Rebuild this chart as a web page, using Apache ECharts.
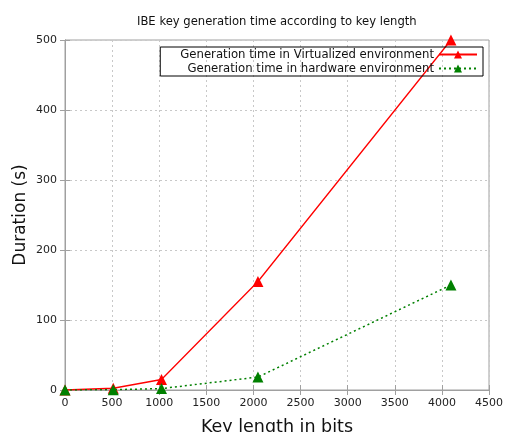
<!DOCTYPE html>
<html>
<head>
<meta charset="utf-8">
<script src="https://cdn.jsdelivr.net/npm/echarts@6/dist/echarts.min.js"></script>
<style>
html,body{margin:0;padding:0;background:#fff;}
#chart{width:505px;height:432px;}
</style>
</head>
<body>
<div id="chart"></div>
<script>
const keyLengths = [0, 512, 1024, 2048, 4096];
const virtualizedTimes = [0, 2.5, 15, 155, 500];
const hardwareTimes = [0, 0.5, 2, 18.5, 150];
const seriesNames = ['Generation time in Virtualized environment', 'Generation time in hardware environment'];
const titleText = 'IBE key generation time according to key length';
const xName = 'Key length in bits';
const yName = 'Duration (s)';

const FONT = 'DejaVu Sans';
const chart = echarts.init(document.getElementById('chart'), null, {renderer: 'canvas'});
const pair = (xs, ys) => xs.map((x, i) => [x, ys[i]]);
const gridLine = {show: true, lineStyle: {color: '#c8c8c8', type: [2, 3], width: 1}};
const axisLine = {show: true, lineStyle: {color: '#a0a0a0', width: 1}};
const tick = {show: true, inside: true, length: 5, lineStyle: {color: '#a0a0a0'}};
const plain = v => String(v);
chart.setOption({
  animation: false,
  backgroundColor: '#fff',
  title: {
    text: titleText, left: 132, top: 11,
    textStyle: {fontFamily: FONT, fontSize: 11.6, fontWeight: 'normal', color: '#111'}
  },
  legend: {
    orient: 'vertical',
    align: 'right',
    right: 22, top: 47,
    padding: [1, 5, 1, 20],
    itemGap: 1,
    itemWidth: 38, itemHeight: 10,
    borderColor: '#000', borderWidth: 1,
    textStyle: {fontFamily: FONT, fontSize: 11.7, color: '#111', lineHeight: 13},
    data: seriesNames
  },
  grid: {left: 65, right: 16, top: 40, bottom: 42, show: true, borderColor: '#a0a0a0', borderWidth: 1, outerBoundsMode: 'none', containLabel: false},
  xAxis: [{
    type: 'value', min: 0, max: 4500, interval: 500,
    name: xName, nameLocation: 'middle', nameGap: 28, nameMoveOverlap: false,
    nameTextStyle: {fontFamily: FONT, fontSize: 17.5, color: '#111'},
    axisLine, axisTick: tick, splitLine: gridLine,
    axisLabel: {fontFamily: FONT, fontSize: 11, color: '#222', margin: 8, formatter: plain}
  }, {
    type: 'value', min: 0, max: 4500, interval: 500, position: 'top',
    axisLine, axisTick: tick, splitLine: {show: false}, axisLabel: {show: false}
  }],
  yAxis: [{
    type: 'value', min: 0, max: 500, interval: 100,
    name: yName, nameLocation: 'middle', nameGap: 36, nameMoveOverlap: false,
    nameTextStyle: {fontFamily: FONT, fontSize: 17, color: '#111'},
    axisLine, axisTick: tick, splitLine: gridLine,
    axisLabel: {fontFamily: FONT, fontSize: 11, color: '#222', margin: 8, formatter: plain}
  }, {
    type: 'value', min: 0, max: 500, interval: 100, position: 'right',
    axisLine, axisTick: tick, splitLine: {show: false}, axisLabel: {show: false}
  }],
  series: [{
    name: seriesNames[0], type: 'line',
    data: pair(keyLengths, virtualizedTimes),
    symbol: 'triangle', symbolSize: 11,
    lineStyle: {color: '#ff0000', width: 1.3},
    itemStyle: {color: '#ff0000'},
    z: 3
  }, {
    name: seriesNames[1], type: 'line',
    data: pair(keyLengths, hardwareTimes),
    symbol: 'triangle', symbolSize: 11,
    lineStyle: {color: '#008000', width: 1.5, type: [2, 3]},
    itemStyle: {color: '#008000'},
    z: 4
  }]
});
</script>
</body>
</html>
